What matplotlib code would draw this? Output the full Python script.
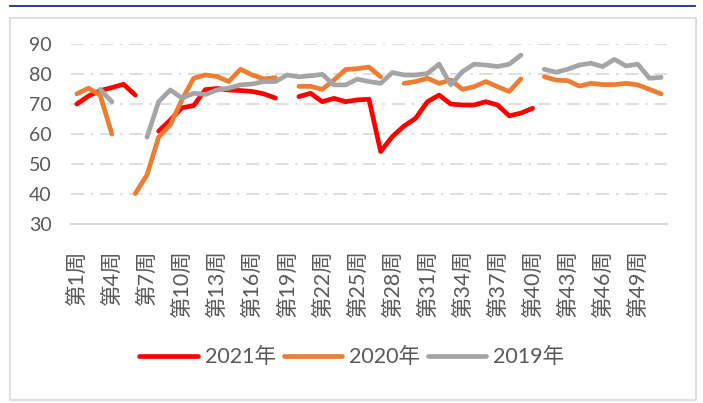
import numpy as np
import matplotlib
matplotlib.use('Agg')
import matplotlib.pyplot as plt
from matplotlib.patches import Rectangle
from matplotlib.lines import Line2D

plt.rcParams['font.family'] = ['Lato', 'Noto Sans CJK SC', 'DejaVu Sans']

nan = np.nan
weeks = np.arange(1, 52)
week_labels = ['第%d周' % w for w in weeks]

# 2021年 (gaps at week 7, 19 and after week 40)
y2021 = [70.0, 72.7, 74.5, 75.5, 76.6, 73.0, nan, 61.0, 64.7, 68.8,
         69.5, 74.8, 75.2, 74.7, 74.5, 74.2, 73.4, 72.0, nan, 72.5,
         73.6, 70.8, 71.9, 70.8, 71.4, 71.6, 54.2, 59.2, 62.7, 65.3,
         70.8, 73.0, 70.0, 69.7, 69.7, 70.8, 69.7, 66.1, 67.0, 68.6,
         nan, nan, nan, nan, nan, nan, nan, nan, nan, nan, nan]
# 2020年
y2020 = [73.4, 75.3, 73.0, 60.0, nan, 40.2, 46.4, 59.0, 63.1, 71.5,
         78.6, 79.7, 79.2, 77.5, 81.6, 79.7, 78.4, 78.8, nan, 75.9,
         75.9, 74.9, 78.0, 81.5, 81.8, 82.3, 79.1, nan, 76.9, 77.5,
         78.6, 76.9, 78.0, 74.9, 75.8, 77.5, 75.8, 74.2, 78.4, nan,
         79.1, 78.0, 77.8, 76.0, 76.9, 76.5, 76.5, 76.9, 76.4, 74.9, 73.4]
# 2019年
y2019 = [nan, nan, 74.9, 70.8, nan, nan, 59.0, 70.8, 74.7, 72.0,
         73.6, 73.2, 74.7, 75.3, 76.4, 76.7, 77.5, 77.5, 79.7, 79.1,
         79.4, 79.9, 76.4, 76.4, 78.3, 77.5, 76.9, 80.5, 79.7, 79.7,
         80.2, 83.3, 76.4, 80.8, 83.3, 83.0, 82.5, 83.3, 86.3, nan,
         81.6, 80.6, 81.6, 83.0, 83.6, 82.5, 84.9, 82.7, 83.3, 78.6, 78.9]

series = [('2021年', y2021, '#FF0000'),
          ('2020年', y2020, '#ED7D31'),
          ('2019年', y2019, '#A5A5A5')]

W, H = 703, 403
fig = plt.figure(figsize=(W / 100, H / 100), dpi=100)

# outer frame and top rule
fig.patches.append(Rectangle((10 / W, 1 - 400 / H), 686 / W, 382 / H,
                             transform=fig.transFigure, fill=False,
                             edgecolor='#D9D9D9', linewidth=1.2))
fig.lines.append(Line2D([10 / W, 695 / W], [1 - 6 / H, 1 - 6 / H],
                        transform=fig.transFigure, color='#1F2D7B', linewidth=1.3))

ax = fig.add_axes([71 / W, 1 - 224.3 / H, 596 / W, 180.3 / H])

for name, vals, col in series:
    ax.plot(weeks, vals, color=col, linewidth=3.4, solid_capstyle='round',
            solid_joinstyle='round', label=name)

ax.set_xlim(0.5, 51.5)
ax.set_ylim(30, 90)
ax.set_yticks(np.arange(30, 91, 10))
ax.set_xticks(weeks[::3])
ax.set_xticklabels(week_labels[::3], rotation=90, va='top', ha='center')

for y in range(40, 91, 10):
    ax.axhline(y, color='#D9D9D9', linewidth=1.2, linestyle=(0, (8, 4, 1.5, 4)), zorder=0)

for s in ['top', 'right', 'left']:
    ax.spines[s].set_visible(False)
ax.spines['bottom'].set_color('#D9D9D9')
ax.spines['bottom'].set_linewidth(1.5)
ax.tick_params(axis='both', length=0, labelcolor='#595959')
ax.tick_params(axis='y', pad=14, labelsize=14)
ax.tick_params(axis='x', pad=18, labelsize=15.5)

fig.legend(loc='center', bbox_to_anchor=(352 / W, 1 - 357 / H), ncol=3,
           frameon=False, fontsize=15.5, handlelength=2.7, handletextpad=0.35,
           columnspacing=0.35, labelcolor='#595959')

fig.savefig('out.png', dpi=100)
